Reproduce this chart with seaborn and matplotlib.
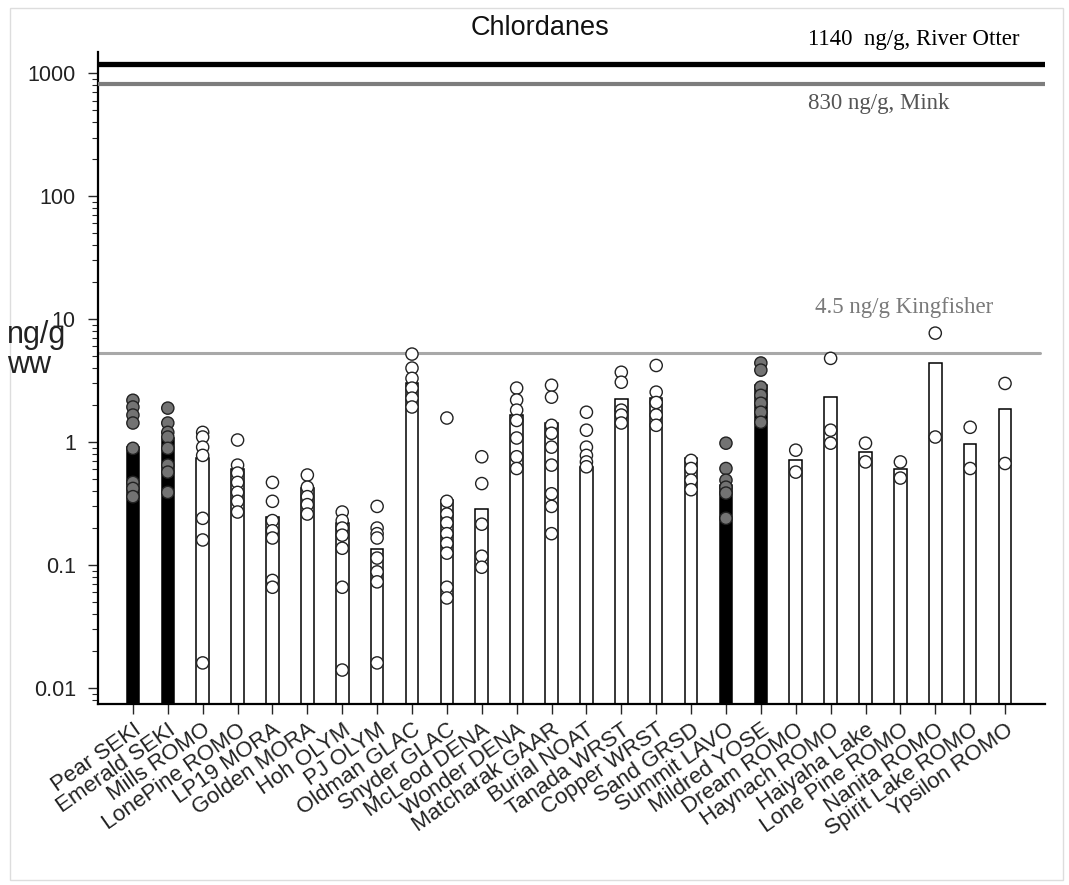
import pandas as pd
import numpy as np
import matplotlib
matplotlib.use("Agg")
import matplotlib.pyplot as plt
import seaborn as sns
from matplotlib.ticker import FixedLocator, LogLocator, NullFormatter
from matplotlib.patches import Rectangle

# site names along the x axis
sites = ["Pear SEKI", "Emerald SEKI", "Mills ROMO", "LonePine ROMO", "LP19 MORA",
         "Golden MORA", "Hoh OLYM", "PJ OLYM", "Oldman GLAC", "Snyder GLAC",
         "McLeod DENA", "Wonder DENA", "Matcharak GAAR", "Burial NOAT", "Tanada WRST",
         "Copper WRST", "Sand GRSD", "Summit LAVO", "Mildred YOSE", "Dream ROMO",
         "Haynach ROMO", "Haiyaha Lake", "Lone Pine ROMO", "Nanita ROMO",
         "Spirit Lake ROMO", "Ypsilon ROMO"]

# bar heights (site means, ng/g ww)
bar_heights = [0.91, 1.08, 0.74, 0.6, 0.245, 0.42, 0.22, 0.135, 3.0, 0.34,
               0.285, 1.66, 1.43, 0.63, 2.23, 2.3, 0.74, 0.45, 2.9, 0.71,
               2.33, 0.83, 0.6, 4.4, 0.96, 1.85]

# sites drawn with black bars / grey dots
dark_sites = ["Pear SEKI", "Emerald SEKI", "Summit LAVO", "Mildred YOSE"]

# individual fish values per site
fish_values = [
    [2.19, 1.93, 1.66, 1.43, 0.89, 0.47, 0.42, 0.36],
    [1.89, 1.43, 1.2, 1.1, 0.89, 0.65, 0.57, 0.39],
    [1.2, 1.1, 0.91, 0.78, 0.24, 0.16, 0.016],
    [1.04, 0.65, 0.56, 0.47, 0.39, 0.33, 0.27],
    [0.47, 0.33, 0.23, 0.19, 0.166, 0.075, 0.066],
    [0.54, 0.43, 0.36, 0.31, 0.26],
    [0.27, 0.23, 0.2, 0.175, 0.137, 0.066, 0.014],
    [0.3, 0.2, 0.18, 0.166, 0.114, 0.088, 0.073, 0.016],
    [5.2, 4.0, 3.3, 2.75, 2.28, 1.93],
    [1.57, 0.33, 0.26, 0.22, 0.18, 0.15, 0.125, 0.066, 0.054],
    [0.76, 0.46, 0.215, 0.118, 0.096],
    [2.75, 2.2, 1.82, 1.5, 1.08, 0.76, 0.61],
    [2.9, 2.32, 1.37, 1.18, 0.91, 0.65, 0.38, 0.3, 0.18],
    [1.75, 1.25, 0.91, 0.78, 0.69, 0.63],
    [3.7, 3.07, 1.82, 1.66, 1.43],
    [4.2, 2.55, 2.1, 1.66, 1.37],
    [0.71, 0.61, 0.49, 0.41],
    [0.98, 0.61, 0.49, 0.43, 0.385, 0.24],
    [4.4, 3.85, 2.8, 2.4, 2.07, 1.75, 1.45],
    [0.86, 0.57],
    [4.8, 1.25, 0.98],
    [0.98, 0.69],
    [0.69, 0.51],
    [7.7, 1.1],
    [1.32, 0.61],
    [3.0, 0.67],
]

# wildlife thresholds
threshold_values = [1200, 820, 5.3]
threshold_labels = ["1140  ng/g, River Otter", "830 ng/g, Mink", "4.5 ng/g Kingfisher"]

bars_df = pd.DataFrame({
    "site": sites,
    "conc": bar_heights,
    "group": ["dark" if s in dark_sites else "light" for s in sites],
})
pts_df = pd.DataFrame({"site": sites, "conc": fish_values}).explode("conc")
pts_df["conc"] = pts_df["conc"].astype(float)
pts_df["group"] = ["dark" if s in dark_sites else "light" for s in pts_df["site"]]

sns.set_style("ticks")
plt.rcParams["font.family"] = ["Liberation Sans", "DejaVu Sans"]

fig = plt.figure(figsize=(10.69, 8.85), dpi=100)
ax = fig.add_axes([0.0917, 0.2045, 0.886, 0.7365])

sns.barplot(data=bars_df, x="site", y="conc", hue="group", order=sites,
            palette={"dark": "black", "light": "white"}, dodge=False, width=0.36,
            edgecolor="black", linewidth=1.1, errorbar=None, legend=False, ax=ax)
sns.stripplot(data=pts_df, x="site", y="conc", hue="group", order=sites,
              palette={"dark": "#737373", "light": "white"}, jitter=False, dodge=False,
              size=8.8, linewidth=1, edgecolor="#222222", legend=False, ax=ax)

ax.set_yscale("log")
ax.set_ylim(0.00741, 1483)
ax.set_xlim(-1.0, 26.15)

# threshold lines
ax.axhline(threshold_values[0], color="black", lw=3.8, zorder=5)
ax.axhline(threshold_values[1], color="#7d7d7d", lw=3.0, zorder=5)
ax.axhline(threshold_values[2], color="#a8a8a8", lw=2.2, xmax=0.995, zorder=1)

fig.text(808 / 1069, 1 - 40 / 885, threshold_labels[0], family="Liberation Serif",
         fontsize=16.5, color="black", va="center")
fig.text(808 / 1069, 1 - 104 / 885, threshold_labels[1], family="Liberation Serif",
         fontsize=16.5, color="#555555", va="center")
fig.text(815 / 1069, 1 - 308 / 885, threshold_labels[2], family="Liberation Serif",
         fontsize=16.5, color="#7a7a7a", va="center")

# axes styling
for side in ["top", "right"]:
    ax.spines[side].set_visible(False)
for side in ["left", "bottom"]:
    ax.spines[side].set_linewidth(1.6)
    ax.spines[side].set_color("black")

ax.yaxis.set_major_locator(FixedLocator([0.01, 0.1, 1, 10, 100, 1000]))
ax.set_yticklabels(["0.01", "0.1", "1", "10", "100", "1000"], fontsize=15.5, color="#222222")
ax.yaxis.set_minor_locator(LogLocator(base=10, subs=np.arange(2, 10)))
ax.yaxis.set_minor_formatter(NullFormatter())
ax.tick_params(axis="y", which="major", length=7, width=1, direction="out", pad=9)
ax.tick_params(axis="y", which="minor", length=4, width=0.8, direction="out")

ax.set_xticks(range(len(sites)))
ax.set_xticklabels(sites, rotation=35, ha="right", rotation_mode="anchor",
                   fontsize=16, color="#222222")
ax.tick_params(axis="x", length=7, width=1, direction="out", pad=4)
ax.set_xlabel("")
ax.set_ylabel("")

fig.text(7 / 1069, 1 - 350 / 885, "ng/g\nww", fontsize=22, color="#222222",
         va="center", ha="left", linespacing=1.0)
fig.text(540 / 1069, 1 - 28 / 885, "Chlordanes", fontsize=19.5, color="#111111",
         ha="center", va="center")

fig.patches.append(Rectangle((10 / 1069, 1 - 880 / 885), 1053 / 1069, 872 / 885,
                             transform=fig.transFigure, fill=False,
                             edgecolor="#dddddd", lw=1))

fig.savefig("out.png", dpi=100)
